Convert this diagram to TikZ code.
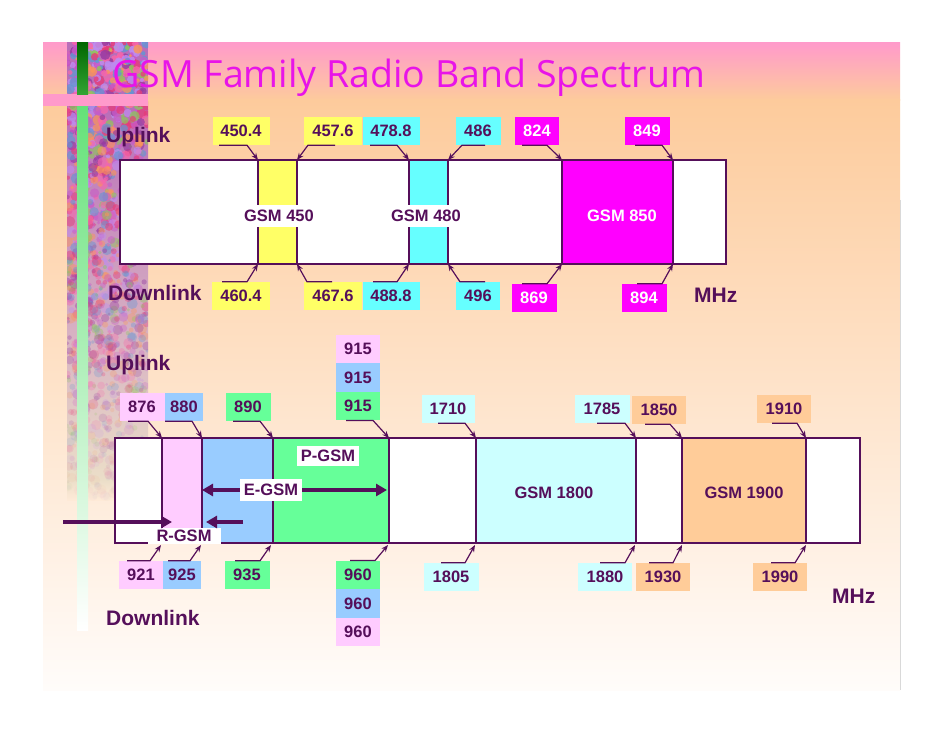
\documentclass[tikz,border=0pt]{standalone}
\usepackage{fontspec}
\setmainfont{Liberation Sans}
\newfontfamily\titlefont{Open Sans}
\usetikzlibrary{arrows.meta}
\definecolor{tc}{RGB}{85,15,90}
\definecolor{cyel}{RGB}{255,255,102}
\definecolor{ccya}{RGB}{102,255,255}
\definecolor{cmag}{RGB}{255,0,255}
\definecolor{cpnk}{RGB}{255,204,255}
\definecolor{cblu}{RGB}{153,204,255}
\definecolor{cgrn}{RGB}{102,255,153}
\definecolor{clcy}{RGB}{204,255,255}
\definecolor{corg}{RGB}{255,204,153}
\definecolor{bgpink}{RGB}{255,154,203}
\definecolor{bgpeach}{RGB}{253,203,156}
\definecolor{bgwhite}{RGB}{255,252,250}
\definecolor{ttl}{RGB}{232,20,232}
\definecolor{col0}{RGB}{200,90,200}
\definecolor{col1}{RGB}{250,100,170}
\definecolor{col2}{RGB}{140,200,90}
\definecolor{col3}{RGB}{250,150,90}
\definecolor{col4}{RGB}{100,150,210}
\definecolor{col5}{RGB}{190,140,240}
\definecolor{col6}{RGB}{150,60,160}
\definecolor{col7}{RGB}{230,60,120}
\definecolor{colA}{RGB}{185,110,185}
\definecolor{colB}{RGB}{235,222,200}
\tikzset{
  num/.style={font=\bfseries\fontsize{16.5}{17}\selectfont, text=tc, inner sep=0pt, minimum height=28pt},
  big/.style={font=\bfseries\fontsize{21}{22}\selectfont, text=tc, inner sep=0pt, anchor=west},
  gsm/.style={font=\bfseries\fontsize{16.5}{17}\selectfont, text=tc, inner xsep=4pt, inner ysep=5pt},
  conn/.style={draw=tc, line width=1.2pt, -{Stealth[length=7pt,width=5.5pt]}},
  fat/.style={draw=tc, line width=4.5pt, -{Triangle[length=11pt,width=12pt]}},
  band/.style={draw=tc, line width=1.3pt},
}
\newcommand\cn[4]{\draw[conn] ([xshift=#2pt]#1) -- ([xshift=#3pt]#1) -- (#4);}
\begin{document}
\begin{tikzpicture}[x=1pt,y=-1pt]
\useasboundingbox (0,0) rectangle (942,728);
\fill[white] (0,0) rectangle (942,728);
% background
\shade[top color=bgpink, bottom color=bgpeach] (43,42) rectangle (900,100);
\shade[top color=bgpeach, bottom color=bgwhite] (43,99.5) rectangle (900,690);
\draw[gray!30, line width=1pt] (900,200) -- (900,690);
% collage strip
\begin{scope}
\clip (67,42) rectangle (148,500);
\fill[colA] (67,42) rectangle (148,110);
\shade[top color=colA, bottom color=colB] (67,109.5) rectangle (148,480);
\shade[top color=colB, bottom color=bgpeach!40!white] (67,479.5) rectangle (148,500);
\pgfmathsetseed{7}
\foreach \i in {1,...,1300}{
  \pgfmathsetmacro{\xx}{67+81*rnd}
  \pgfmathsetmacro{\yy}{42+455*(rnd^1.25)}
  \pgfmathsetmacro{\rr}{1.5+4*rnd}
  \pgfmathtruncatemacro{\cc}{int(8*rnd)}
  \pgfmathsetmacro{\op}{0.85*(1-(\yy-42)/470)}
  \fill[col\cc, opacity=\op] (\xx,\yy) circle (\rr);
}
\end{scope}
\fill[bgpink] (43,94) rectangle (148,106);
\shade[top color=green!40!black, bottom color=green!55!black!80] (77,42) rectangle (88,94);
\shade[top color={rgb,255:red,100;green,225;blue,120}, bottom color=white] (77,106) rectangle (88,630);
% title
\node[anchor=base west, inner sep=0pt, text=ttl, font=\titlefont\fontsize{37.5}{38}\selectfont] (title) at (112,87) {GSM Family Radio Band Spectrum};

% ===== upper band =====
\fill[white] (120,160) rectangle (726,264);
\fill[cyel] (258,160) rectangle (297,264);
\fill[ccya] (409,160) rectangle (448,264);
\fill[cmag] (562,160) rectangle (673,264);
\draw[band] (120,160) rectangle (726,264);
\foreach \x in {258,297,409,448,562,673} \draw[band] (\x,160) -- (\x,264);
\node[gsm, fill=white] (g450) at (279,216) {GSM 450};
\node[gsm, fill=white] (g480) at (426,216) {GSM 480};
\node[gsm, text=white] (g850) at (622,216) {GSM 850};

\coordinate (a1) at (258,160); \coordinate (a2) at (297,160);
\coordinate (a3) at (409,160); \coordinate (a4) at (448,160);
\coordinate (a5) at (562,160); \coordinate (a6) at (673,160);
\coordinate (b1) at (258,264); \coordinate (b2) at (297,264);
\coordinate (b3) at (409,264); \coordinate (b4) at (448,264);
\coordinate (b5) at (562,264); \coordinate (b6) at (673,264);

\node[num, fill=cyel, minimum width=57pt] (n4504) at (241,131) {450.4};
\node[num, fill=cyel, minimum width=58pt] (n4576) at (333,131) {457.6};
\node[num, fill=ccya, minimum width=57pt] (n4788) at (391,131) {478.8};
\node[num, fill=ccya, minimum width=45pt] (n486) at (478,131) {486};
\node[num, fill=cmag, text=white, minimum width=44pt] (n824) at (537,131) {824};
\node[num, fill=cmag, text=white, minimum width=45pt] (n849) at (647,131) {849};

\node[num, fill=cyel, minimum width=58pt] (n4604) at (241,296) {460.4};
\node[num, fill=cyel, minimum width=58pt] (n4676) at (333,296) {467.6};
\node[num, fill=ccya, minimum width=57pt] (n4888) at (391,296) {488.8};
\node[num, fill=ccya, minimum width=44pt] (n496) at (478,296) {496};
\node[num, fill=cmag, text=white, minimum width=45pt] (n869) at (534,298) {869};
\node[num, fill=cmag, text=white, minimum width=45pt] (n894) at (644,298) {894};

\cn{n4504.south}{-22}{6}{a1}
\cn{n4576.south}{2}{-25}{a2}
\cn{n4788.south}{-21}{6}{a3}
\cn{n486.south}{7}{-16}{a4}
\cn{n824.south}{-15}{10}{a5}
\cn{n849.south}{-12}{15}{a6}
\cn{n4604.north}{-19}{6}{b1}
\cn{n4676.north}{-1}{-26}{b2}
\cn{n4888.north}{-18}{6}{b3}
\cn{n496.north}{7}{-18}{b4}
\cn{n869.north}{-12}{13}{b5}
\cn{n894.north}{-7}{18}{b6}

\node[big] (up1) at (106,137) {Uplink};
\node[big] (dn1) at (108,293) {Downlink};
\node[big] (mhz1) at (694,295) {MHz};

% ===== lower band =====
\fill[white] (115,438) rectangle (860,543);
\fill[cpnk] (162,438) rectangle (202,543);
\fill[cblu] (202,438) rectangle (273,543);
\fill[cgrn] (273,438) rectangle (389,543);
\fill[clcy] (476,438) rectangle (636,543);
\fill[corg] (682,438) rectangle (806,543);
\draw[band] (115,438) rectangle (860,543);
\foreach \x in {162,202,273,389,476,636,682,806} \draw[band] (\x,438) -- (\x,543);

\node[gsm] (g1800) at (554,493) {GSM 1800};
\node[gsm] (g1900) at (744,493) {GSM 1900};
\node[gsm, fill=white, inner ysep=4pt] (pgsm) at (328,456) {P-GSM};
\node[gsm, fill=white, inner ysep=5pt] (egsm) at (271,490) {E-GSM};
\node[gsm, fill=white, inner ysep=2pt, inner xsep=9pt] (rgsm) at (184,536) {R-GSM};
\coordinate (e1) at (202,490); \coordinate (e2) at (387,490);
\coordinate (r0) at (63,522); \coordinate (r1) at (172,522);
\coordinate (r2) at (243,522); \coordinate (r3) at (206,522);
\draw[fat] (egsm.west) -- (e1);
\draw[fat] (egsm.east) -- (e2);
\draw[fat] (r0) -- (r1);
\draw[fat] (r2) -- (r3);

\coordinate (c1) at (162,438); \coordinate (c2) at (202,438);
\coordinate (c3) at (273,438); \coordinate (c4) at (389,438);
\coordinate (c5) at (476,438); \coordinate (c6) at (636,438);
\coordinate (c7) at (682,438); \coordinate (c8) at (806,438);
\coordinate (d1) at (161,545); \coordinate (d2) at (201,545);
\coordinate (d3) at (271,545); \coordinate (d4) at (388,545);
\coordinate (d5) at (475,545); \coordinate (d6) at (635,545);
\coordinate (d7) at (682,545); \coordinate (d8) at (806,545);

\node[num, fill=cpnk, minimum width=45pt] (u876) at (142,407) {876};
\node[num, fill=cblu, minimum width=38pt] (u880) at (184,407) {880};
\node[num, fill=cgrn, minimum width=45pt] (u890) at (248,407) {890};
\node[num, fill=cpnk, minimum width=44pt, minimum height=28.5pt] (u915a) at (358,349) {915};
\node[num, fill=cblu, minimum width=44pt, minimum height=28.5pt] (u915b) at (358,377.5) {915};
\node[num, fill=cgrn, minimum width=44pt, minimum height=28.5pt] (u915c) at (358,406) {915};
\node[num, fill=clcy, minimum width=53pt] (u1710) at (448,409) {1710};
\node[num, fill=clcy, minimum width=55pt] (u1785) at (602,409) {1785};
\node[num, fill=corg, minimum width=54pt] (u1850) at (659,410) {1850};
\node[num, fill=corg, minimum width=54pt] (u1910) at (784,409) {1910};

\node[num, fill=cpnk, minimum width=45pt] (d921) at (141,575) {921};
\node[num, fill=cblu, minimum width=38pt] (d925) at (182,575) {925};
\node[num, fill=cgrn, minimum width=45pt] (d935) at (247,575) {935};
\node[num, fill=cgrn, minimum width=44pt, minimum height=28.5pt] (d960a) at (358,575) {960};
\node[num, fill=cblu, minimum width=44pt, minimum height=28.5pt] (d960b) at (358,603.5) {960};
\node[num, fill=cpnk, minimum width=44pt, minimum height=28.5pt] (d960c) at (358,632) {960};
\node[num, fill=clcy, minimum width=55pt] (d1805) at (451,577) {1805};
\node[num, fill=clcy, minimum width=54pt] (d1880) at (605,577) {1880};
\node[num, fill=corg, minimum width=54pt] (d1930) at (663,577) {1930};
\node[num, fill=corg, minimum width=54pt] (d1990) at (780,577) {1990};

\cn{u876.south}{-14}{6}{c1}
\cn{u880.south}{-19}{8}{c2}
\cn{u890.south}{-15}{12}{c3}
\cn{u915c.south}{-12}{15}{c4}
\cn{u1710.south}{-10}{17}{c5}
\cn{u1785.south}{-5}{23}{c6}
\cn{u1850.south}{-14}{11}{c7}
\cn{u1910.south}{-12}{13}{c8}
\cn{d921.north}{-14}{9}{d1}
\cn{d925.north}{-14}{8}{d2}
\cn{d935.north}{-12}{13}{d3}
\cn{d960a.north}{-8}{17}{d4}
\cn{d1805.north}{-10}{14}{d5}
\cn{d1880.north}{-5}{20}{d6}
\cn{d1930.north}{-14}{10}{d7}
\cn{d1990.north}{-9}{15}{d8}

\node[big] (up2) at (106,365) {Uplink};
\node[big] (dn2) at (106,618) {Downlink};
\node[big] (mhz2) at (832,596) {MHz};
\end{tikzpicture}
\end{document}
